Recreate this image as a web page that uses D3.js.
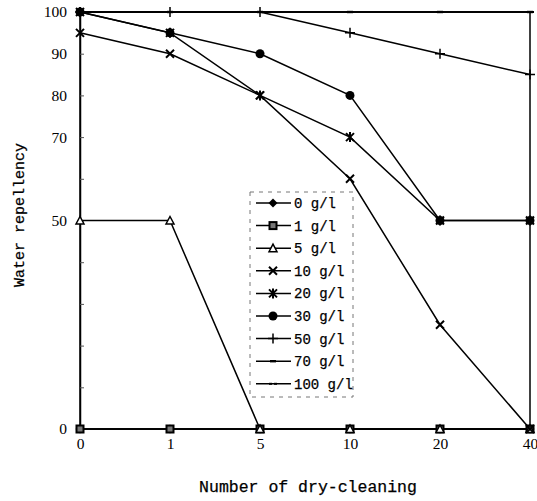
<!DOCTYPE html>
<html>
<head>
<meta charset="utf-8">
<script src="https://cdn.jsdelivr.net/npm/d3@7"></script>
<style>
  body { margin: 0; background: #fff; }
  svg { display: block; }
</style>
</head>
<body>
<div id="chart"></div>
<script>
// categories and values
var cleanings = ['0', '1', '5', '10', '20', '40']
var names = ['0 g/l', '1 g/l', '5 g/l', '10 g/l', '20 g/l', '30 g/l', '50 g/l', '70 g/l', '100 g/l']
var markers = ['diamond', 'square', 'triangle', 'x', 'star', 'circle', 'plus', 'dash', 'dash2']
var v0 = [0, 0, 0, 0, 0, 0]
var v1 = [0, 0, 0, 0, 0, 0]
var v5 = [50, 50, 0, 0, 0, 0]
var v10 = [95, 90, 80, 60, 25, 0]
var v20 = [100, 95, 80, 70, 50, 50]
var v30 = [100, 95, 90, 80, 50, 50]
var v50 = [100, 100, 100, 95, 90, 85]
var v70 = [100, 100, 100, 100, 100, 100]
var v100 = [100, 100, 100, 100, 100, 100]
var values = [v0, v1, v5, v10, v20, v30, v50, v70, v100]
var yTicks = [0, 10, 20, 30, 40, 50, 60, 70, 80, 90, 100]
var yLabels = [0, 50, 70, 80, 90, 100]

var W = 537, H = 501
var margin = { top: 12, right: 7, bottom: 72, left: 80 }
var width = W - margin.left - margin.right
var height = H - margin.top - margin.bottom

var svg = d3.select('#chart').append('svg')
    .attr('width', W)
    .attr('height', H)

var g = svg.append('g')
    .attr('transform', `translate(${margin.left},${margin.top})`)

var x = d3.scalePoint().domain(cleanings).range([0, width]).padding(0)
var y = d3.scaleLinear().domain([0, 100]).range([height, 0])

// frame
g.append('rect')
    .attr('x', 0).attr('y', 0)
    .attr('width', width).attr('height', height)
    .attr('fill', 'none')
    .attr('stroke', '#000')
    .attr('stroke-width', 1.5)

// y axis, ticks inside, only some labelled
var yAxis = d3.axisLeft(y)
    .tickValues(yTicks)
    .tickSizeInner(-4)
    .tickSizeOuter(0)
    .tickPadding(13)
    .tickFormat(function (d) { return yLabels.indexOf(d) >= 0 ? d : '' })
var ya = g.append('g').call(yAxis)
ya.select('.domain').attr('stroke-width', 1.5)
ya.selectAll('.tick line').attr('stroke', '#555')
ya.selectAll('text')
    .style('font-family', '"Liberation Serif", serif')
    .style('font-size', '15.5px')
    .attr('fill', '#000')

var xAxis = d3.axisBottom(x).tickSize(0).tickPadding(9)
var xa = g.append('g').attr('transform', `translate(0,${height})`).call(xAxis)
xa.select('.domain').remove()
xa.selectAll('text')
    .style('font-family', '"Liberation Serif", serif')
    .style('font-size', '15.5px')
    .attr('fill', '#000')

// axis titles
svg.append('text')
    .attr('x', 308).attr('y', 492)
    .attr('text-anchor', 'middle')
    .style('font-family', '"Liberation Mono", monospace')
    .style('font-size', '16.5px')
    .attr('stroke', '#000').attr('stroke-width', 0.25)
    .text('Number of dry-cleaning')

svg.append('text')
    .attr('transform', 'translate(24,215) rotate(-90)')
    .attr('text-anchor', 'middle')
    .style('font-family', '"Liberation Mono", monospace')
    .style('font-size', '15px')
    .attr('stroke', '#000').attr('stroke-width', 0.25)
    .text('Water repellency')

// marker drawing
function drawMarker(sel, type) {
    if (type == 'diamond') {
        sel.append('path').attr('d', 'M0,-4.5L4.5,0L0,4.5L-4.5,0Z').attr('fill', '#000')
    } else if (type == 'square') {
        sel.append('rect').attr('x', -3.5).attr('y', -3.5).attr('width', 7).attr('height', 7)
            .attr('fill', '#777').attr('stroke', '#000').attr('stroke-width', 2)
    } else if (type == 'triangle') {
        sel.append('path').attr('d', 'M0,-4L4,3.5L-4,3.5Z')
            .attr('fill', '#fff').attr('stroke', '#000').attr('stroke-width', 1.5)
    } else if (type == 'x') {
        sel.append('path').attr('d', 'M-4,-4L4,4M-4,4L4,-4')
            .attr('stroke', '#000').attr('stroke-width', 2)
    } else if (type == 'star') {
        sel.append('path').attr('d', 'M-4,-4L4,4M-4,4L4,-4M0,-5L0,5')
            .attr('stroke', '#000').attr('stroke-width', 2)
    } else if (type == 'circle') {
        sel.append('circle').attr('r', 4.5).attr('fill', '#000')
    } else if (type == 'plus') {
        sel.append('path').attr('d', 'M0,-5L0,5M-5,0L5,0')
            .attr('stroke', '#000').attr('stroke-width', 1.5)
    } else if (type == 'dash') {
        sel.append('rect').attr('x', -3).attr('y', -1.2).attr('width', 6).attr('height', 2.4).attr('fill', '#000')
    } else if (type == 'dash2') {
        sel.append('rect').attr('x', -4).attr('y', -1).attr('width', 3).attr('height', 2).attr('fill', '#000')
        sel.append('rect').attr('x', 1).attr('y', -1).attr('width', 3).attr('height', 2).attr('fill', '#000')
    }
}

var series = names.map(function (n, i) {
    return { name: n, marker: markers[i], points: values[i].map(function (v, j) { return { c: cleanings[j], v: v } }) }
})

var line = d3.line()
    .x(function (d) { return x(d.c) })
    .y(function (d) { return y(d.v) })

g.selectAll('.series')
    .data(series)
    .enter()
    .append('path')
    .attr('class', 'series')
    .attr('d', function (d) { return line(d.points) })
    .attr('fill', 'none')
    .attr('stroke', '#000')
    .attr('stroke-width', 1.5)

series.forEach(function (s) {
    s.points.forEach(function (p) {
        var m = g.append('g').attr('transform', `translate(${x(p.c)},${y(p.v)})`)
        drawMarker(m, s.marker)
    })
})

// legend
var lg = svg.append('g').attr('transform', 'translate(250,192)')
lg.append('rect')
    .attr('width', 103).attr('height', 205)
    .attr('fill', '#fff')
    .attr('stroke', '#777')
    .attr('stroke-width', 1)
    .attr('stroke-dasharray', '4,5')

var rows = lg.selectAll('.row')
    .data(series)
    .enter()
    .append('g')
    .attr('transform', function (d, i) { return `translate(0,${11 + i * 22.6})` })

rows.append('line')
    .attr('x1', 6).attr('x2', 41)
    .attr('stroke', '#000').attr('stroke-width', 1.5)

rows.each(function (d) {
    drawMarker(d3.select(this).append('g').attr('transform', 'translate(23,0)'), d.marker)
})

rows.append('text')
    .attr('x', 44).attr('dy', '0.35em')
    .style('font-family', '"Liberation Mono", monospace')
    .style('font-size', '14px')
    .attr('stroke', '#000').attr('stroke-width', 0.25)
    .text(function (d) { return d.name })
</script>
</body>
</html>
